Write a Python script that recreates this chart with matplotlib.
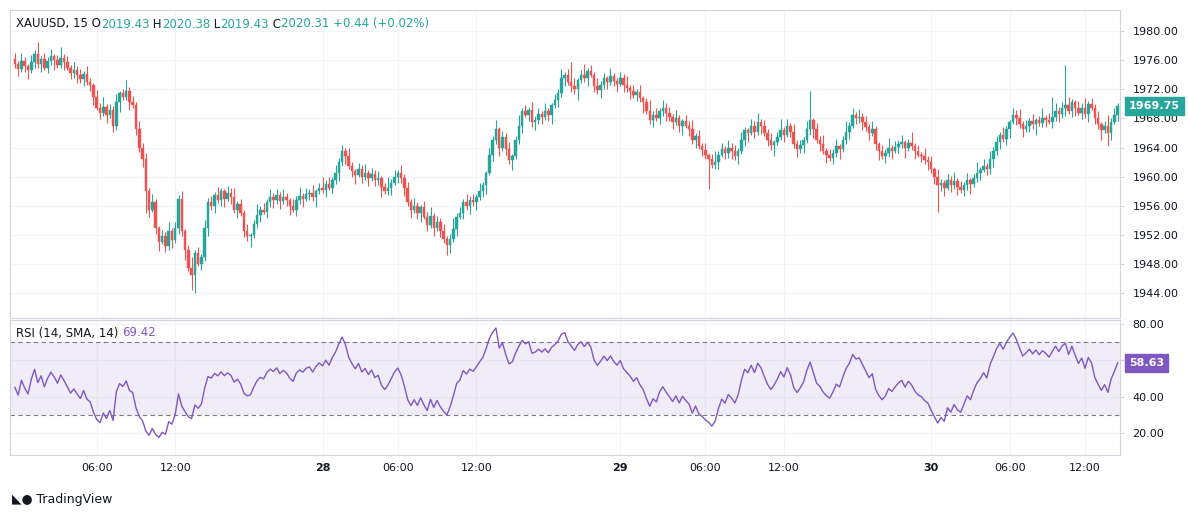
import numpy as np
import matplotlib
matplotlib.use("Agg")
import matplotlib.pyplot as plt
from matplotlib.patches import Rectangle

closes = [1975.5,1974.8,1975.9,1975.2,1974.6,1975.8,
1976.8,1975.5,1976.2,1975.0,1975.9,1976.6,1976.1,
1975.4,1976.3,1975.7,1975.0,1974.2,1974.6,
1974.0,1973.4,1974.1,1973.0,1972.6,
1971.0,1969.5,1968.8,1969.6,1968.5,1969.2,
1967.0,1970.3,1971.5,1971.0,1971.8,1970.2,1969.8,
1966.5,1964.0,1962.5,1958.0,1955.5,1956.5,
1953.0,1951.0,1951.8,1950.5,1952.5,1951.3,
1953.0,1957.0,1952.5,1950.0,1947.5,1946.5,
1949.5,1948.0,1949.0,1953.0,1956.5,1956.0,
1957.5,1956.8,1958.0,1957.0,1957.8,1957.2,
1955.5,1956.2,1955.0,1952.5,1951.8,1952.0,1953.5,
1954.8,1955.5,1955.2,1956.5,1957.2,1956.8,
1957.5,1956.6,1957.2,1956.8,1956.0,
1955.5,1956.8,1957.3,1957.0,1957.6,
1957.8,1957.2,1958.0,1958.5,
1958.2,1959.0,1958.5,1959.6,1960.5,
1962.0,1963.5,1962.8,1961.5,
1960.8,1960.2,1961.0,1960.0,1960.5,
1959.8,1960.4,1959.5,1959.8,1958.6,1958.0,1958.5,
1959.2,1960.0,1960.5,1959.8,1958.5,
1956.5,1955.4,1956.0,1955.0,1955.8,1954.5,
1953.4,1954.6,1953.0,1953.8,
1952.5,1951.5,1950.6,1951.5,1952.8,
1954.5,1955.0,1956.5,1956.0,1956.8,1956.5,1957.2,
1958.0,1958.8,1960.5,1963.0,1965.0,1966.5,
1964.0,1965.5,1963.8,1962.3,1962.8,1965.0,
1967.0,1969.0,1968.5,1969.2,1967.5,1967.8,1968.6,
1968.2,1969.0,1968.5,1969.8,1970.5,1971.5,
1973.5,1974.0,1973.0,1972.5,1972.0,1973.3,
1974.0,1973.5,1974.5,1974.0,1972.5,1971.9,1972.6,
1973.5,1973.0,1973.8,
1973.2,1972.8,1973.5,1972.6,1972.2,
1971.8,1971.2,1971.6,1970.8,1970.2,
1969.0,1967.8,1968.5,1968.0,1969.0,1969.5,1968.8,1968.2,
1967.5,1968.0,1967.0,1967.6,1967.0,
1966.5,1965.0,1965.6,1964.2,1963.7,1963.0,
1962.5,1961.6,1962.0,1963.0,1963.8,1963.2,
1964.0,1963.5,1962.8,1963.5,1965.0,1966.4,1966.0,
1967.0,1966.2,1967.5,1967.0,
1966.0,1965.0,1964.3,1964.8,
1965.5,1966.4,1965.8,1967.0,1966.2,
1964.5,1963.8,1964.3,1965.0,1966.5,1967.8,1966.5,
1965.0,1964.5,1963.6,1963.0,1962.6,1963.3,
1964.2,1963.8,1965.0,
1966.2,1967.0,1968.5,1968.0,1968.2,
1967.5,1966.8,1966.0,1966.5,1964.5,1963.5,1962.8,
1963.2,1964.0,1963.6,1964.1,1964.5,
1964.8,1964.0,1964.6,1964.2,
1963.5,1963.0,1962.8,1962.3,1962.0,
1961.0,1960.0,1958.8,1959.2,1958.5,
1959.5,1958.8,1959.4,1958.6,
1958.2,1958.8,1959.5,1959.0,1959.8,
1960.5,1960.9,1961.5,1961.0,
1962.5,1963.5,1964.8,1965.7,1965.2,
1966.5,1967.5,1968.5,1968.0,
1967.2,1966.5,1967.0,1967.6,1967.2,
1967.8,1967.4,1968.0,1967.8,1967.5,
1968.2,1969.0,1968.6,1969.4,1969.8,1969.0,1970.2,
1969.5,1968.8,1969.5,1968.6,1970.0,1969.5,
1968.0,1967.2,1966.4,1967.0,1966.0,
1967.5,1968.5,1969.75]
first_open = 1976.2
wick_up = [0.8,0.4,1.1,0.5,0.3,0.9,0.6,1.3,0.4,0.8,0.5,1.0,0.3,0.6,1.5,0.5,0.9,0.4,1.1,0.6]
wick_dn = [0.5,1.0,0.4,0.8,1.2,0.3,0.9,0.5,1.1,0.4,0.8,0.6,1.4,0.4,0.5,1.0,0.3,0.8,0.6,1.1]
spike_lows = {40: 1955.0, 54: 1944.5, 55: 1944.0, 133: 1949.5, 212: 1958.3, 282: 1955.2, 334: 1964.2}
spike_highs = {7: 1978.5, 170: 1975.8, 243: 1971.8, 321: 1975.3, 317: 1971.0}

tick_idx = [25, 49, 94, 117, 141, 185, 211, 235, 280, 304, 327]
tick_lbl = ["06:00", "12:00", "28", "06:00", "12:00", "29", "06:00", "12:00", "30", "06:00", "12:00"]
price_ticks = [1944, 1948, 1952, 1956, 1960, 1964, 1968, 1972, 1976, 1980]
rsi_ticks = [20, 40, 60, 80]

UP, DN = "#26a69a", "#ef5350"
PURP = "#7e57c2"
TXT = "#131722"
n = len(closes)
c = np.array(closes)
o = np.concatenate([[first_open], c[:-1]])
hi = np.maximum(o, c) + np.array([wick_up[i % 20] for i in range(n)])
lo = np.minimum(o, c) - np.array([wick_dn[i % 20] for i in range(n)])
for k, v in spike_lows.items(): lo[k] = min(lo[k], v)
for k, v in spike_highs.items(): hi[k] = max(hi[k], v)

d = np.diff(np.concatenate([[first_open], c]))
g = np.clip(d, 0, None); l = np.clip(-d, 0, None)
ag, al = 0.25, 0.25
rsi = []
for i in range(n):
    ag = (ag * 13 + g[i]) / 14; al = (al * 13 + l[i]) / 14
    rsi.append(100 - 100 / (1 + ag / al) if al > 0 else 100)
rsi = np.array(rsi)

W, H = 1189, 519
fig = plt.figure(figsize=(W/100, H/100), dpi=100)
fig.patch.set_facecolor("white")
L, R = 10/W, 1120/W
ax = fig.add_axes([L, 1-318/H, R-L, (318-10)/H])
ax2 = fig.add_axes([L, 1-455/H, R-L, (455-320)/H])
xl = (-1.5, n - 0.3)
GRID = "#f0f3fa"
for a in (ax, ax2):
    a.set_xlim(*xl)
    a.set_facecolor("white")
    for s in a.spines.values():
        s.set_color("#d1d4dc"); s.set_linewidth(0.8)
    a.set_xticks(tick_idx)
    a.grid(True, color=GRID, linewidth=0.8)
    a.set_axisbelow(True)
    a.yaxis.tick_right()
    a.tick_params(axis="y", labelsize=8, colors=TXT, length=3, color="#d1d4dc", pad=6)
    a.tick_params(axis="x", length=0)

ax.set_ylim(1940.6, 1982.9)
ax.set_yticks(price_ticks)
ax.set_yticklabels([f"{v:.2f}" for v in price_ticks])
ax.tick_params(axis="x", labelbottom=False)
for i in range(n):
    col = UP if c[i] >= o[i] else DN
    ax.vlines(i, lo[i], hi[i], color=col, linewidth=0.8)
    b = min(o[i], c[i]); h = max(abs(c[i] - o[i]), 0.08)
    ax.add_patch(Rectangle((i - 0.38, b), 0.76, h, facecolor=col, edgecolor=col, linewidth=0.3))

fig.canvas.draw()
rend = fig.canvas.get_renderer()
def seq(parts, x0, y):
    x = x0
    for s, col in parts:
        t = fig.text(x / W, 1 - y / H, s, fontsize=8.5, color=col, va="center")
        x += t.get_window_extent(rend).width
seq([("XAUUSD, 15 O", TXT), ("2019.43", UP), (" H", TXT), ("2020.38", UP), (" L", TXT),
     ("2019.43", UP), (" C", TXT), ("2020.31 +0.44 (+0.02%)", UP)], 16, 24)
seq([("RSI (14, SMA, 14) ", TXT), ("69.42", PURP)], 16, 333)

ax.text(1.008, c[-1], f"{c[-1]:.2f}", transform=ax.get_yaxis_transform(), fontsize=8, color="white",
        fontweight="bold", va="center", ha="left",
        bbox=dict(boxstyle="square,pad=0.35", facecolor=UP, edgecolor=UP))

ax2.set_ylim(7.9, 82.2)
ax2.set_yticks(rsi_ticks)
ax2.set_yticklabels([f"{v:.2f}" for v in rsi_ticks])
ax2.axhspan(30, 70, color=PURP, alpha=0.1, linewidth=0)
ax2.axhline(70, color="#787b86", linestyle=(0, (4, 3)), linewidth=0.8)
ax2.axhline(30, color="#787b86", linestyle=(0, (4, 3)), linewidth=0.8)
ax2.plot(np.arange(n), rsi, color=PURP, linewidth=1)
ax2.set_xticklabels(tick_lbl)
for t, lab in zip(ax2.get_xticklabels(), tick_lbl):
    t.set_fontsize(8); t.set_color(TXT)
    if len(lab) == 2: t.set_fontweight("bold")
ax2.tick_params(axis="x", pad=6)
ax2.text(1.008, rsi[-1], f"{rsi[-1]:.2f}", transform=ax2.get_yaxis_transform(), fontsize=8, color="white",
         fontweight="bold", va="center", ha="left", zorder=5,
         bbox=dict(boxstyle="square,pad=0.35", facecolor=PURP, edgecolor=PURP))
fig.text(12/W, 1-500/H, "\u25e3\u25cf TradingView", fontsize=9, color=TXT, va="center")
fig.savefig("out.png", dpi=100)
